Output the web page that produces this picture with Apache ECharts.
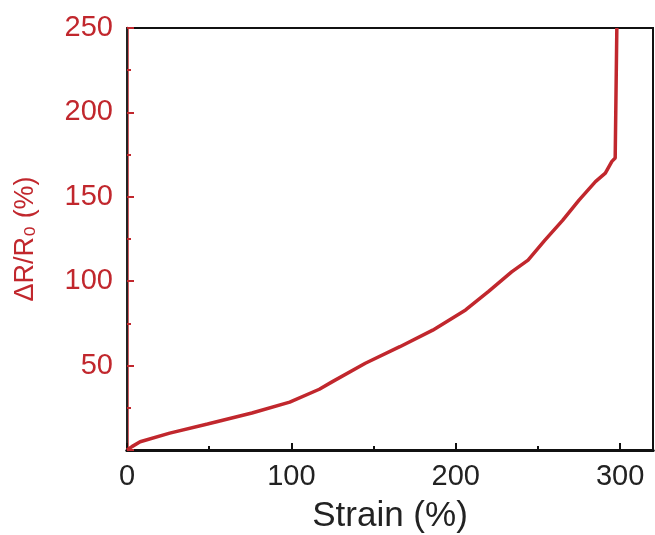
<!DOCTYPE html>
<html>
<head>
<meta charset="utf-8">
<script src="https://cdn.jsdelivr.net/npm/echarts@6/dist/echarts.min.js"></script>
<style>
  html, body { margin: 0; padding: 0; background: #fff; }
  #chart { width: 655px; height: 535px; }
</style>
</head>
<body>
<div id="chart"></div>
<script>
// strain (%) and resistance change (%)
var strain = [0, 3, 8, 26, 49, 76, 99, 117, 125, 145, 166, 186, 206, 220, 234, 244, 254, 265, 275, 285, 291, 295, 297, 298, 298]
var resistance = [0, 2, 4.9, 10, 15.4, 21.9, 28.4, 36, 40.5, 51.4, 61.2, 71, 83, 94, 105.5, 112.5, 124, 136, 148, 159, 164, 171, 173, 172, 250]

var red = '#c1272d'
var font = 'Liberation Sans, Arial, sans-serif'

var points = strain.map(function (s, i) { return [s, resistance[i]] })

var chart = echarts.init(document.getElementById('chart'))
chart.setOption({
  animation: false,
  grid: {
    left: 127,
    right: 2,
    top: 28,
    bottom: 85,
    outerBoundsMode: 'none',
    containLabel: false,
    show: true,
    borderColor: '#111',
    borderWidth: 2
  },
  xAxis: [{
    type: 'value',
    min: 0,
    max: 320,
    interval: 100,
    name: 'Strain (%)',
    nameLocation: 'middle',
    nameGap: 49,
    nameTextStyle: { color: '#222', fontSize: 35, fontFamily: font },
    axisLine: { lineStyle: { color: '#111', width: 3 } },
    axisTick: { inside: true, length: 7, lineStyle: { color: '#111', width: 2 } },
    minorTick: { show: true, splitNumber: 2, length: 4, lineStyle: { color: '#111', width: 2 } },
    axisLabel: { color: '#222', fontSize: 29, fontFamily: font, margin: 12, showMaxLabel: false },
    splitLine: { show: false }
  }, {
    type: 'value',
    position: 'top',
    min: 0,
    max: 320,
    axisLine: { show: true, lineStyle: { color: '#111', width: 3 } },
    axisTick: { show: false },
    axisLabel: { show: false },
    splitLine: { show: false }
  }],
  yAxis: [{
    type: 'value',
    min: 0,
    max: 250,
    interval: 50,
    name: 'ΔR/R₀ (%)',
    nameLocation: 'middle',
    nameGap: 88,
    nameTextStyle: { color: red, fontSize: 27, fontFamily: font },
    axisLine: { lineStyle: { color: red, width: 2.5 } },
    axisTick: { inside: true, length: 7, lineStyle: { color: red, width: 2 } },
    minorTick: { show: true, splitNumber: 2, length: 4, lineStyle: { color: red, width: 2 } },
    axisLabel: { color: red, fontSize: 29, fontFamily: font, margin: 14, showMinLabel: false },
    splitLine: { show: false }
  }, {
    type: 'value',
    position: 'right',
    min: 0,
    max: 250,
    axisLine: { show: true, lineStyle: { color: '#222', width: 2 } },
    axisTick: { show: false },
    axisLabel: { show: false },
    splitLine: { show: false }
  }],
  series: [{
    type: 'line',
    data: points,
    showSymbol: false,
    smooth: false,
    clip: true,
    lineStyle: { color: red, width: 3.5 }
  }]
})
</script>
</body>
</html>
